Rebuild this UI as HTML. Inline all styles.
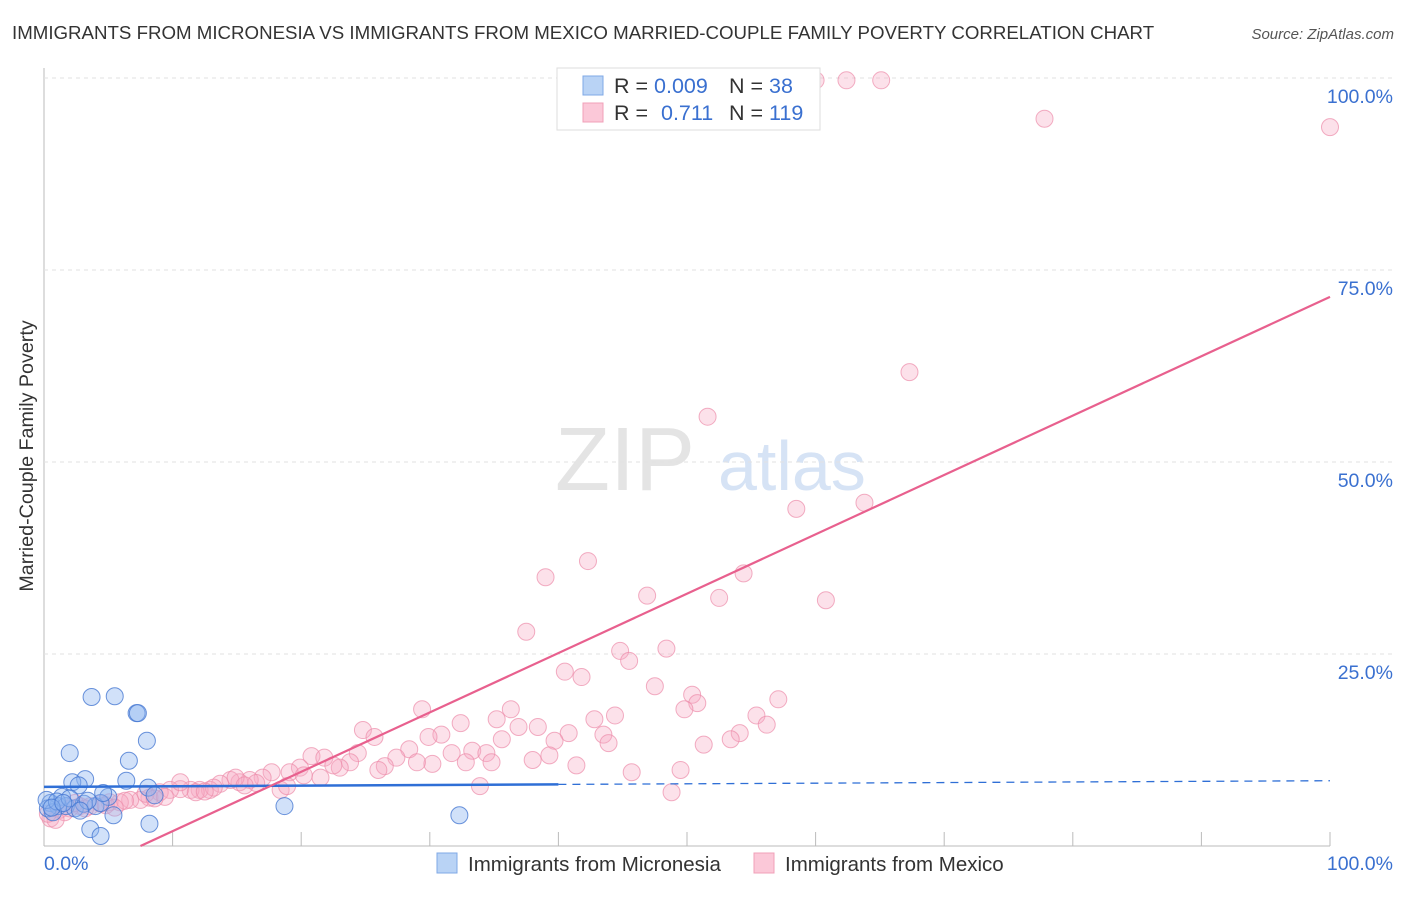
<!DOCTYPE html>
<html><head><meta charset="utf-8"><style>
body{margin:0;background:#fff;font-family:"Liberation Sans",sans-serif}
svg text{font-family:"Liberation Sans",sans-serif}
</style></head><body>
<svg id="c" width="1406" height="892" xmlns="http://www.w3.org/2000/svg">
<text x="12" y="39" font-size="18.7" fill="#333">IMMIGRANTS FROM MICRONESIA VS IMMIGRANTS FROM MEXICO MARRIED-COUPLE FAMILY POVERTY CORRELATION CHART</text>
<text x="1394" y="39" font-size="15" fill="#555" text-anchor="end" font-style="italic">Source: ZipAtlas.com</text>
<text x="33" y="456" font-size="19.7" fill="#333" text-anchor="middle" transform="rotate(-90 33 456)">Married-Couple Family Poverty</text>
<text x="555" y="490" font-size="90" fill="#e4e4e4" font-family="Liberation Serif">ZIP</text>
<text x="718" y="490" font-size="70" fill="#d6e3f5">atlas</text>
<g id="grid"></g><g id="pts"></g><g id="lines"></g>
<g>
<rect x="557" y="68" width="263" height="62" fill="#fff" stroke="#ddd"/>
<rect x="583" y="76" width="20" height="19" fill="#b9d3f5" stroke="#7fa8e6"/>
<rect x="583" y="103" width="20" height="19" fill="#fbc8d8" stroke="#f0a0b8"/>
<text x="614" y="93" font-size="21.5" fill="#333">R = <tspan fill="#3a70d0">0.009</tspan></text>
<text x="729" y="93" font-size="21.5" fill="#333">N = <tspan fill="#3a70d0"> 38</tspan></text>
<text x="614" y="120" font-size="21.5" fill="#333">R = <tspan fill="#3a70d0" x="661">0.711</tspan></text>
<text x="729" y="120" font-size="21.5" fill="#333">N = <tspan fill="#3a70d0">119</tspan></text>
</g>
<g>
<rect x="437" y="853" width="20" height="20" fill="#b9d3f5" stroke="#7fa8e6"/>
<text x="468" y="871" font-size="20.5" fill="#333">Immigrants from Micronesia</text>
<rect x="754" y="853" width="20" height="20" fill="#fbc8d8" stroke="#f0a0b8"/>
<text x="785" y="871" font-size="20.5" fill="#333">Immigrants from Mexico</text>
</g>
</svg>
<script>
const yTicks=[25,50,75,100];
const yTickLabels=["25.0%","50.0%","75.0%","100.0%"];
const xTicks=[10,20,30,40,50,60,70,80,90,100];
const blueX=[3.7,5.5,7.2,7.3,8,2,6.6,6.4,3.2,2.2,2.7,8.1,8.6,5,1.4,0.5,1.1,1.7,4,4.4,18.7,5.4,8.2,3.6,4.4,32.3,0.3,0.7,2.4,3.1,0.2,4.6,1.0,2.0,0.6,1.5,3.4,2.8];
const blueY=[19.4,19.5,17.3,17.3,13.7,12.1,11.1,8.5,8.7,8.3,7.9,7.6,6.6,6.4,6.4,5.6,5.2,5.2,5.2,5.6,5.2,4,2.9,2.2,1.3,4,4.9,4.4,4.9,5.5,6,6.9,5.8,6.2,5.0,5.6,5.9,4.6];
const pinkX=[60,62.4,65.1,77.8,100,67.3,51.6,58.5,63.8,42.3,39,54.4,46.9,52.5,60.8,37.5,44.8,45.5,48.4,40.5,41.8,47.5,50.4,50.8,49.8,57.1,29.4,36.3,35.2,32.4,44.4,42.8,55.4,56.2,24.8,25.7,36.9,38.4,30.9,29.9,40.8,39.7,43.5,43.9,54.1,53.4,51.3,35.6,28.4,31.7,33.3,34.4,24.4,20.8,21.8,27.4,39.3,38,32.8,34.8,30.2,29,26.5,23.8,23,41.4,45.7,49.5,48.8,33.9,19.9,19.1,17.7,17,16,15.2,14.5,13.7,12.9,12.1,11.4,10.6,9.8,9,8.2,7.5,6.7,5.9,5.1,4.4,3.6,2.8,2,1.2,0.5,21.5,18.4,14.9,10.6,1.6,0.9,22.5,20.2,16.5,13.2,11.8,9.4,7.9,6.3,4.8,3.2,2.4,0.3,26,18.9,15.6,12.5,8.6,5.5];
const pinkY=[99.7,99.7,99.7,94.7,93.6,61.7,55.9,43.9,44.7,37.1,35,35.5,32.6,32.3,32,27.9,25.4,24.1,25.7,22.7,22,20.8,19.7,18.6,17.8,19.1,17.8,17.8,16.5,16,17,16.5,17,15.8,15.1,14.2,15.5,15.5,14.5,14.2,14.7,13.7,14.5,13.4,14.7,13.9,13.2,13.9,12.6,12.1,12.4,12.1,12.1,11.7,11.5,11.5,11.8,11.2,10.9,10.9,10.7,10.9,10.4,10.9,10.2,10.5,9.6,9.9,7,7.8,10.2,9.6,9.6,8.9,8.6,8.3,8.6,8.1,7.3,7.3,7.3,7.4,7.3,7,6.3,6,6,5.7,5.7,5.5,5.2,5.2,4.9,4.7,3.6,8.9,7.3,8.9,8.3,4.4,3.4,10.5,9.2,8.2,7.6,7.0,6.4,6.8,5.9,5.3,4.9,5.6,4.2,9.9,7.8,7.9,7.1,6.2,5.0];
const blueLine=[7.7,8.5];
const pinkLine={slope:0.773,intercept:-5.8};
const X=v=>44+v*12.86, Y=v=>846-v*7.68;
const NS="http://www.w3.org/2000/svg";
function mk(t,a,p){const e=document.createElementNS(NS,t);for(const k in a)e.setAttribute(k,a[k]);p.appendChild(e);return e;}
const g=document.getElementById('grid');
const ax=mk('line',{x1:44,y1:68,x2:44,y2:846,stroke:'#bbb'},g);


const bx=mk('line',{x1:44,y1:846,x2:1330,y2:846,stroke:'#bbb'},g);


yTicks.forEach((t,i)=>{
 const l=mk('line',{x1:44,y1:Y(t),x2:1394,y2:Y(t),stroke:'#e2e2e2','stroke-dasharray':'4,4'},g);
 
 
 const tx=mk('text',{x:1393,y:Y(t)+25,'font-size':19.5,fill:'#3a70d0','text-anchor':'end'},g);
 tx.textContent=yTickLabels[i];
 
 
});
xTicks.forEach(t=>{
 const l=mk('line',{x1:X(t),y1:846,x2:X(t),y2:832,stroke:'#bbb'},g);
 
 
});
const x0=mk('text',{x:44,y:870,'font-size':19.5,fill:'#3a70d0'},g);x0.textContent='0.0%';


const x1=mk('text',{x:1393,y:870,'font-size':19.5,fill:'#3a70d0','text-anchor':'end'},g);x1.textContent='100.0%';


const pg=document.getElementById('pts');
pinkX.forEach((x,i)=>{
 const c=mk('circle',{cx:X(x),cy:Y(pinkY[i]),r:8.5,fill:'rgba(246,170,195,0.35)',stroke:'rgba(236,140,170,0.7)','stroke-width':1},pg);
 
 
});
blueX.forEach((x,i)=>{
 const c=mk('circle',{cx:X(x),cy:Y(blueY[i]),r:8.5,fill:'rgba(140,180,240,0.4)',stroke:'rgba(70,120,210,0.8)','stroke-width':1},pg);
 
 
});
const lg=document.getElementById('lines');
const bm=blueLine[0]+(blueLine[1]-blueLine[0])*0.4;
const b1=mk('line',{x1:X(0),y1:Y(blueLine[0]),x2:X(40),y2:Y(bm),stroke:'#2f6fd6','stroke-width':2.5},lg);


const b2=mk('line',{x1:X(40),y1:Y(bm),x2:X(100),y2:Y(blueLine[1]),stroke:'#2f6fd6','stroke-width':1.3,'stroke-dasharray':'8,6'},lg);


const xs=-pinkLine.intercept/pinkLine.slope;
const p1=mk('line',{x1:X(xs),y1:Y(0),x2:X(100),y2:Y(pinkLine.slope*100+pinkLine.intercept),stroke:'#e8608e','stroke-width':2.2},lg);


</script>
</body></html>
